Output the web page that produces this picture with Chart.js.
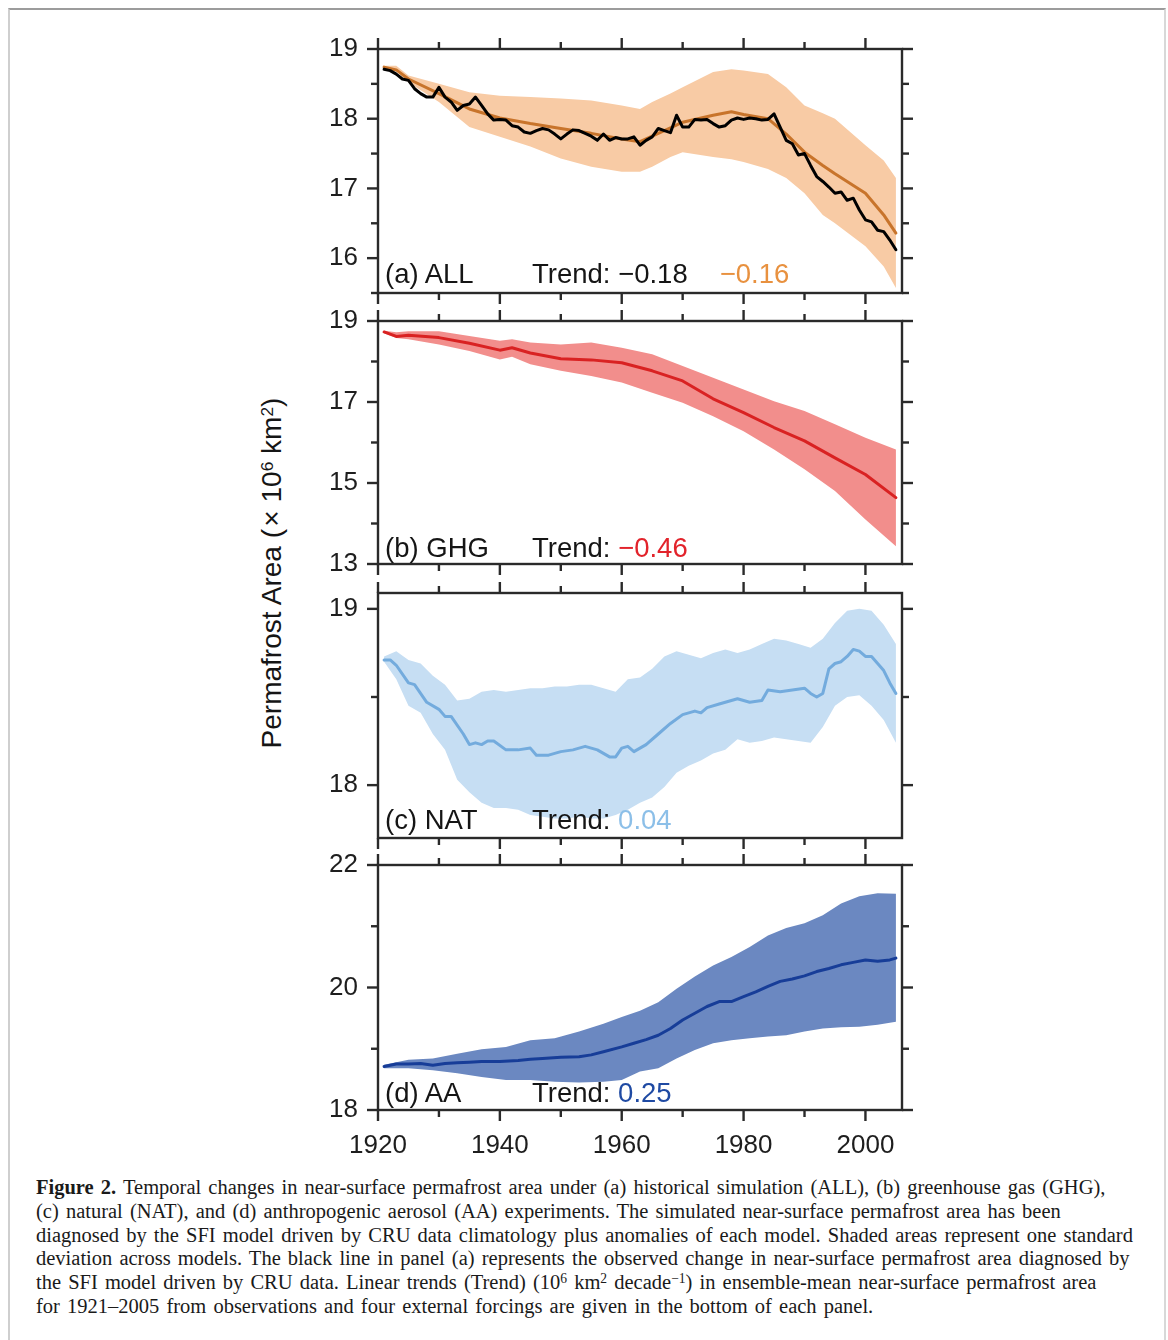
<!DOCTYPE html>
<html lang="en">
<head>
  <meta charset="UTF-8">
  <title>Temporal changes in near-surface permafrost area</title>
  <script src="https://cdn.jsdelivr.net/npm/chart.js"></script>
  <style>
    html, body { margin: 0; padding: 0; background: #fff; overflow: hidden; }
    body { width: 1168px; height: 1340px; position: relative; font-family: "Liberation Sans", Arial, sans-serif; color: #151515; }
    .frame { position: absolute; left: 8px; top: 8px; width: 1154px; height: 1400px;
             border-top: 2px solid #9c9c9c; border-left: 2px solid #cfcfcf; border-right: 2px solid #d8d8d8; }
    canvas { position: absolute; left: 300px; }
    .lab { position: absolute; font-size: 27.5px; line-height: 27px; white-space: nowrap; }
    .ytitle { position: absolute; left: 272px; top: 573px; font-size: 28px; line-height: 30px; white-space: nowrap;
              transform: translate(-50%, -50%) rotate(-90deg); }
    .ytitle sup { font-size: 0.62em; position: relative; top: -0.45em; vertical-align: baseline; line-height: 0; }
    .caption { position: absolute; left: 36px; top: 1176px; font-family: "Liberation Serif", "Times New Roman", serif;
               font-size: 20.5px; word-spacing: 2px; line-height: 23.8px; white-space: nowrap; color: #1a1a1a; }
    .caption sup { font-size: 0.66em; position: relative; top: -0.45em; vertical-align: baseline; line-height: 0; }
  </style>
</head>
<body>
  <div class="frame"></div>

  <canvas id="panelA" width="630" height="284" style="top:29px"></canvas>
  <canvas id="panelB" width="630" height="283" style="top:301px"></canvas>
  <canvas id="panelC" width="630" height="285" style="top:573px"></canvas>
  <canvas id="panelD" width="630" height="331" style="top:845px"></canvas>

  <div class="ytitle">Permafrost Area (&#8202;× 10<sup>6</sup> km<sup>2</sup>)</div>

  <!-- panel annotations -->
  <div class="lab" style="left:385px;top:260px">(a) ALL</div>
  <div class="lab" style="left:532px;top:260px">Trend: −0.18<span style="color:#e8913f;margin-left:32px">−0.16</span></div>
  <div class="lab" style="left:385px;top:534px">(b) GHG</div>
  <div class="lab" style="left:532px;top:534px">Trend: <span style="color:#e2232b">−0.46</span></div>
  <div class="lab" style="left:385px;top:806px">(c) NAT</div>
  <div class="lab" style="left:532px;top:806px">Trend: <span style="color:#8cbfe8">0.04</span></div>
  <div class="lab" style="left:385px;top:1079px">(d) AA</div>
  <div class="lab" style="left:532px;top:1079px">Trend: <span style="color:#1f4aa3">0.25</span></div>

  <div class="caption">
    <b>Figure 2.</b> Temporal changes in near-surface permafrost area under (a) historical simulation (ALL), (b) greenhouse gas (GHG),<br>
    (c) natural (NAT), and (d) anthropogenic aerosol (AA) experiments. The simulated near-surface permafrost area has been<br>
    diagnosed by the SFI model driven by CRU data climatology plus anomalies of each model. Shaded areas represent one standard<br>
    deviation across models. The black line in panel (a) represents the observed change in near-surface permafrost area diagnosed by<br>
    the SFI model driven by CRU data. Linear trends (Trend) (10<sup>6</sup> km<sup>2</sup> decade<sup>−1</sup>) in ensemble-mean near-surface permafrost area<br>
    for 1921–2005 from observations and four external forcings are given in the bottom of each panel.
  </div>

  <script>
    // ---- shared x axis ----
    const xMin = 1920, xMax = 2006;
    const xMajor = [1920, 1940, 1960, 1980, 2000];
    const xMinor = [1930, 1950, 1970, 1990];

    // ---- (a) ALL ----
    const allYears = [1921, 1923, 1925, 1930, 1935, 1940, 1945, 1950, 1955, 1960, 1963, 1965, 1968,
                      1970, 1975, 1978, 1980, 1984, 1987, 1990, 1993, 1995, 2000, 2003, 2005];
    const allMean  = [18.74, 18.70, 18.57, 18.36, 18.14, 18.01, 17.93, 17.86, 17.79, 17.71, 17.67, 17.75, 17.87,
                      17.95, 18.05, 18.10, 18.06, 18.00, 17.78, 17.52, 17.33, 17.21, 16.93, 16.62, 16.36];
    const allUpper = [18.76, 18.76, 18.62, 18.50, 18.38, 18.33, 18.31, 18.29, 18.26, 18.19, 18.14, 18.24, 18.36,
                      18.45, 18.67, 18.71, 18.69, 18.64, 18.45, 18.19, 18.08, 18.00, 17.62, 17.40, 17.15];
    const allLower = [18.70, 18.68, 18.52, 18.24, 17.88, 17.74, 17.60, 17.43, 17.31, 17.24, 17.24, 17.31, 17.45,
                      17.52, 17.45, 17.42, 17.38, 17.28, 17.15, 16.93, 16.62, 16.50, 16.17, 15.88, 15.57];
    const obsYears = [1921, 1922, 1923, 1924, 1925, 1926, 1927, 1928, 1929, 1930,
                      1931, 1932, 1933, 1934, 1935, 1936, 1937, 1938, 1939, 1940,
                      1941, 1942, 1943, 1944, 1945, 1946, 1947, 1948, 1949, 1950,
                      1951, 1952, 1953, 1954, 1955, 1956, 1957, 1958, 1959, 1960,
                      1961, 1962, 1963, 1964, 1965, 1966, 1967, 1968, 1969, 1970,
                      1971, 1972, 1973, 1974, 1975, 1976, 1977, 1978, 1979, 1980,
                      1981, 1982, 1983, 1984, 1985, 1986, 1987, 1988, 1989, 1990,
                      1991, 1992, 1993, 1994, 1995, 1996, 1997, 1998, 1999, 2000,
                      2001, 2002, 2003, 2004, 2005];
    const obsArea  = [18.71, 18.69, 18.64, 18.57, 18.55, 18.43, 18.36, 18.31, 18.31, 18.45,
                      18.31, 18.24, 18.12, 18.19, 18.21, 18.31, 18.19, 18.07, 17.98, 17.99,
                      17.98, 17.90, 17.88, 17.81, 17.79, 17.83, 17.86, 17.84, 17.78, 17.71,
                      17.78, 17.84, 17.83, 17.79, 17.75, 17.69, 17.78, 17.69, 17.73, 17.71,
                      17.71, 17.74, 17.62, 17.69, 17.74, 17.86, 17.83, 17.80, 18.05, 17.88,
                      17.88, 17.99, 17.98, 17.99, 17.93, 17.88, 17.90, 17.98, 18.01, 17.99,
                      18.01, 18.00, 17.98, 17.99, 18.07, 17.88, 17.69, 17.64, 17.48, 17.50,
                      17.33, 17.17, 17.10, 17.02, 16.93, 16.95, 16.83, 16.86, 16.69, 16.55,
                      16.52, 16.40, 16.38, 16.26, 16.12];
    const allTicks = [16, 17, 18, 19];
    const allMinorTicks = [15.5, 16.5, 17.5, 18.5];

    // ---- (b) GHG ----
    const ghgYears = [1921, 1923, 1925, 1930, 1935, 1940, 1942, 1945, 1950, 1955,
                      1960, 1965, 1970, 1975, 1980, 1985, 1990, 1995, 2000, 2005];
    const ghgMean  = [18.73, 18.62, 18.65, 18.59, 18.45, 18.28, 18.34, 18.21, 18.07, 18.04,
                      17.97, 17.77, 17.52, 17.08, 16.74, 16.37, 16.04, 15.62, 15.21, 14.64];
    const ghgUpper = [18.76, 18.72, 18.75, 18.75, 18.63, 18.51, 18.55, 18.47, 18.42, 18.47,
                      18.34, 18.18, 17.89, 17.60, 17.31, 17.02, 16.78, 16.45, 16.12, 15.83];
    const ghgLower = [18.70, 18.58, 18.55, 18.42, 18.26, 18.05, 18.12, 17.93, 17.77, 17.64,
                      17.48, 17.23, 16.98, 16.65, 16.28, 15.83, 15.34, 14.80, 14.10, 13.44];
    const ghgTicks = [13, 15, 17, 19];
    const ghgMinorTicks = [14, 16, 18];

    // ---- (c) NAT ----
    const natMeanYears = [1921, 1922, 1923, 1925, 1926, 1928, 1930, 1931, 1932, 1934,
                          1935, 1936, 1937, 1938, 1939, 1941, 1943, 1945, 1946, 1948,
                          1950, 1952, 1954, 1956, 1958, 1959, 1960, 1961, 1962, 1964,
                          1966, 1968, 1970, 1972, 1973, 1974, 1976, 1978, 1979, 1981,
                          1983, 1984, 1986, 1988, 1990, 1991, 1992, 1993, 1994, 1995,
                          1996, 1997, 1998, 1999, 2000, 2001, 2002, 2003, 2004, 2005];
    const natMean  = [18.71, 18.71, 18.68, 18.58, 18.57, 18.47, 18.43, 18.39, 18.39, 18.29,
                      18.23, 18.24, 18.23, 18.25, 18.25, 18.20, 18.20, 18.21, 18.17, 18.17,
                      18.19, 18.20, 18.22, 18.20, 18.16, 18.16, 18.21, 18.22, 18.19, 18.23,
                      18.29, 18.35, 18.40, 18.42, 18.41, 18.44, 18.46, 18.48, 18.49, 18.47,
                      18.48, 18.54, 18.53, 18.54, 18.55, 18.52, 18.50, 18.52, 18.66, 18.69,
                      18.70, 18.73, 18.77, 18.76, 18.73, 18.73, 18.69, 18.65, 18.58, 18.52];
    const natBandYears = [1921, 1923, 1925, 1927, 1929, 1931, 1933, 1935, 1937, 1939,
                          1941, 1943, 1945, 1947, 1949, 1951, 1953, 1955, 1957, 1959,
                          1961, 1963, 1965, 1967, 1969, 1971, 1973, 1975, 1977, 1979,
                          1981, 1983, 1985, 1987, 1989, 1991, 1993, 1995, 1997, 1999,
                          2001, 2003, 2005];
    const natUpper = [18.73, 18.76, 18.71, 18.69, 18.62, 18.57, 18.48, 18.49, 18.53, 18.54,
                      18.53, 18.54, 18.55, 18.55, 18.56, 18.56, 18.57, 18.57, 18.55, 18.53,
                      18.60, 18.61, 18.66, 18.73, 18.76, 18.74, 18.72, 18.75, 18.77, 18.75,
                      18.77, 18.80, 18.83, 18.82, 18.80, 18.78, 18.83, 18.92, 18.99, 19.00,
                      18.99, 18.91, 18.80];
    const natLower = [18.70, 18.60, 18.45, 18.41, 18.29, 18.20, 18.03, 17.96, 17.90, 17.87,
                      17.87, 17.86, 17.83, 17.82, 17.81, 17.81, 17.82, 17.81, 17.81, 17.83,
                      17.86, 17.90, 17.93, 17.99, 18.07, 18.11, 18.14, 18.18, 18.20, 18.26,
                      18.24, 18.25, 18.27, 18.26, 18.25, 18.24, 18.33, 18.45, 18.50, 18.51,
                      18.45, 18.37, 18.24];
    const natTicks = [18, 19];
    const natMinorTicks = [18.5];

    // ---- (d) AA ----
    const aaMeanYears = [1921, 1923, 1925, 1927, 1929, 1931, 1933, 1935, 1937, 1940,
                         1943, 1945, 1947, 1950, 1953, 1955, 1957, 1960, 1962, 1964,
                         1966, 1968, 1970, 1972, 1974, 1976, 1978, 1980, 1982, 1984,
                         1986, 1988, 1990, 1992, 1994, 1996, 1998, 2000, 2002, 2004, 2005];
    const aaMean  = [18.71, 18.75, 18.75, 18.76, 18.73, 18.76, 18.77, 18.78, 18.79, 18.79,
                     18.81, 18.83, 18.84, 18.86, 18.87, 18.90, 18.95, 19.03, 19.09, 19.15,
                     19.22, 19.33, 19.47, 19.58, 19.69, 19.77, 19.77, 19.85, 19.93, 20.02,
                     20.10, 20.14, 20.19, 20.26, 20.31, 20.37, 20.41, 20.45, 20.43, 20.45, 20.48];
    const aaBandYears = [1921, 1925, 1929, 1933, 1937, 1941, 1945, 1949, 1953, 1957,
                         1960, 1963, 1966, 1969, 1972, 1975, 1978, 1981, 1984, 1987,
                         1990, 1993, 1996, 1999, 2002, 2005];
    const aaUpper = [18.74, 18.82, 18.84, 18.92, 18.99, 19.03, 19.14, 19.17, 19.28, 19.41,
                     19.52, 19.62, 19.76, 19.98, 20.18, 20.36, 20.50, 20.66, 20.85, 20.97,
                     21.05, 21.18, 21.37, 21.49, 21.54, 21.53];
    const aaLower = [18.68, 18.68, 18.65, 18.60, 18.54, 18.49, 18.49, 18.46, 18.45, 18.46,
                     18.49, 18.63, 18.68, 18.84, 18.98, 19.09, 19.14, 19.17, 19.20, 19.22,
                     19.28, 19.33, 19.35, 19.36, 19.39, 19.44];
    const aaTicks = [18, 20, 22];
    const aaMinorTicks = [19, 21];

    const AXIS_COLOR = '#2a2a2a';
    Chart.defaults.font.family = '"Liberation Sans", Arial, Helvetica, sans-serif';
    Chart.defaults.color = '#1e1e1e';

    function pts(xs, ys) {
      return xs.map((x, i) => ({ x: x, y: ys[i] }));
    }

    function line(xs, ys, color, order) {
      return { data: pts(xs, ys), borderColor: color, borderWidth: 3, pointRadius: 0,
               fill: false, order: order, borderJoinStyle: 'round', borderCapStyle: 'round' };
    }

    // upper edge fills down to the lower edge (next dataset)
    function band(xs, upper, lower, color) {
      return [
        { data: pts(xs, upper), borderColor: 'rgba(0,0,0,0)', borderWidth: 0, pointRadius: 0,
          backgroundColor: color, fill: { target: '+1', above: color, below: color }, order: 5 },
        { data: pts(xs, lower), borderColor: 'rgba(0,0,0,0)', borderWidth: 0, pointRadius: 0,
          fill: false, order: 5 }
      ];
    }

    // box round the plot area with outward ticks on all four sides
    const frameTicks = {
      id: 'frameTicks',
      afterDraw(chart, args, opts) {
        const { ctx, chartArea: a } = chart;
        const xs = chart.scales.x, ys = chart.scales.y;
        ctx.save();
        ctx.strokeStyle = AXIS_COLOR;
        ctx.lineWidth = 2.4;
        const seg = (x1, y1, x2, y2) => { ctx.beginPath(); ctx.moveTo(x1, y1); ctx.lineTo(x2, y2); ctx.stroke(); };
        const xTick = (v, len) => {
          const p = xs.getPixelForValue(v);
          seg(p, a.top, p, a.top - len);
          seg(p, a.bottom, p, a.bottom + len);
        };
        const yTick = (v, len) => {
          const p = ys.getPixelForValue(v);
          seg(a.left, p, a.left - len, p);
          seg(a.right, p, a.right + len, p);
        };
        xMajor.forEach(v => xTick(v, 11));
        xMinor.forEach(v => xTick(v, 7));
        opts.yMajor.forEach(v => yTick(v, 11));
        opts.yMinor.forEach(v => yTick(v, 7));
        ctx.strokeRect(a.left, a.top, a.right - a.left, a.bottom - a.top);
        ctx.restore();
      }
    };

    // labels may overhang the plot area; keep chart area fixed by the layout padding alone
    function noOverhang(s) {
      s.paddingTop = 0; s.paddingBottom = 0; s.paddingLeft = 0; s.paddingRight = 0;
    }

    function makePanel(id, cfg) {
      return new Chart(document.getElementById(id), {
        type: 'line',
        data: { datasets: cfg.datasets },
        options: {
          responsive: false,
          animation: false,
          devicePixelRatio: 1,
          layout: { padding: { left: 0, right: 28, top: 20, bottom: cfg.showX ? 10 : 20 } },
          plugins: {
            legend: { display: false },
            tooltip: { enabled: false },
            filler: { drawTime: 'beforeDatasetsDraw' },
            frameTicks: { yMajor: cfg.yMajor, yMinor: cfg.yMinor }
          },
          scales: {
            x: {
              type: 'linear', min: xMin, max: xMax, display: cfg.showX,
              grid: { display: false, drawTicks: false }, border: { display: false },
              afterBuildTicks: s => { s.ticks = xMajor.map(v => ({ value: v })); },
              afterFit: s => { if (cfg.showX) s.height = 56; noOverhang(s); },
              ticks: { callback: v => String(v), padding: 20, font: { size: 26 }, maxRotation: 0, autoSkip: false }
            },
            y: {
              type: 'linear', min: cfg.yMin, max: cfg.yMax,
              grid: { display: false, drawTicks: false }, border: { display: false },
              afterBuildTicks: s => { s.ticks = cfg.yMajor.map(v => ({ value: v })); },
              afterFit: s => { s.width = 78; noOverhang(s); },
              ticks: { callback: v => String(v), padding: 20, font: { size: 26 }, autoSkip: false }
            }
          }
        },
        plugins: [frameTicks]
      });
    }

    makePanel('panelA', {
      yMin: 15.5, yMax: 19, yMajor: allTicks, yMinor: allMinorTicks, showX: false,
      datasets: [
        line(obsYears, obsArea, '#000000', 0),
        line(allYears, allMean, '#c8742b', 1),
        ...band(allYears, allUpper, allLower, '#f8cba5')
      ]
    });

    makePanel('panelB', {
      yMin: 13, yMax: 19, yMajor: ghgTicks, yMinor: ghgMinorTicks, showX: false,
      datasets: [
        line(ghgYears, ghgMean, '#d92222', 1),
        ...band(ghgYears, ghgUpper, ghgLower, '#f28e8c')
      ]
    });

    makePanel('panelC', {
      yMin: 17.7, yMax: 19.09, yMajor: natTicks, yMinor: natMinorTicks, showX: false,
      datasets: [
        line(natMeanYears, natMean, '#73abdd', 1),
        ...band(natBandYears, natUpper, natLower, '#c6def3')
      ]
    });

    makePanel('panelD', {
      yMin: 18, yMax: 22, yMajor: aaTicks, yMinor: aaMinorTicks, showX: true,
      datasets: [
        line(aaMeanYears, aaMean, '#173d98', 1),
        ...band(aaBandYears, aaUpper, aaLower, '#6b88c1')
      ]
    });
  </script>
</body>
</html>
